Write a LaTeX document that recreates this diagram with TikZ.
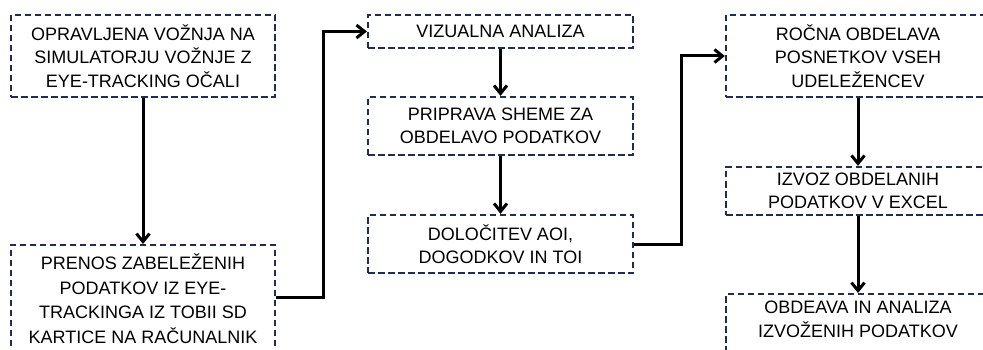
\documentclass[tikz,border=0pt]{standalone}
\usepackage{fontspec}
\setmainfont{Liberation Sans}
\usetikzlibrary{arrows.meta}
\definecolor{boxblue}{RGB}{31,43,90}
\tikzset{
  stepbox/.style={draw=boxblue, line width=2.3pt, dash pattern=on 6.5pt off 3.5pt,
    rectangle, align=center, inner sep=0pt, minimum width=264pt,
    font=\fontsize{18}{23.5}\selectfont},
  arr/.style={draw=black, line width=3pt,
    -{Straight Barb[length=8pt,width=13pt,line width=3pt]}}
}
\begin{document}
\begin{tikzpicture}[x=1pt,y=-1pt]
\useasboundingbox (0,0) rectangle (983,350);
\clip (0,0) rectangle (983,350);
\fill[white] (0,0) rectangle (983,350);
\node[stepbox, anchor=north, inner ysep=9pt, text depth=80pt, font=\fontsize{18}{24.5}\selectfont] (b2) at (143,244)
  {PRENOS ZABELEŽENIH\\PODATKOV IZ EYE-\\TRACKINGA IZ TOBII SD\\KARTICE NA RAČUNALNIK};
\node[stepbox, minimum height=82pt] (b1) at (143,56)
  {OPRAVLJENA VOŽNJA NA\\SIMULATORJU VOŽNJE Z\\EYE-TRACKING OČALI};
\node[stepbox, minimum width=265pt, minimum height=33pt] (b3) at (500.5,31.5)
  {VIZUALNA ANALIZA};
\node[stepbox, minimum width=265pt, minimum height=58pt] (b4) at (500.5,126)
  {PRIPRAVA SHEME ZA\\OBDELAVO PODATKOV};
\node[stepbox, minimum width=265pt, minimum height=58pt] (b5) at (500.5,244)
  {DOLOČITEV AOI,\\DOGODKOV IN TOI};
\node[stepbox, minimum height=82pt] (b6) at (858,56)
  {ROČNA OBDELAVA\\POSNETKOV VSEH\\UDELEŽENCEV};
\node[stepbox, minimum height=48pt] (b7) at (858,191)
  {IZVOZ OBDELANIH\\PODATKOV V EXCEL};
\node[stepbox, anchor=north, inner ysep=7pt, text depth=50pt] (b8) at (858,293)
  {OBDEAVA IN ANALIZA\\IZVOŽENIH PODATKOV};
\draw[arr] (b1.south) -- (b2.north);
\draw[arr] (b2.north east |- 0,297) -- ++(47,0) |- (b3.west);
\draw[arr] (b3.south) -- (b4.north);
\draw[arr] (b4.south) -- (b5.north);
\draw[arr] (b5.east) -- ++(47,0) |- (b6.west);
\draw[arr] (b6.south) -- (b7.north);
\draw[arr] (b7.south) -- (b8.north);
\end{tikzpicture}
\end{document}
